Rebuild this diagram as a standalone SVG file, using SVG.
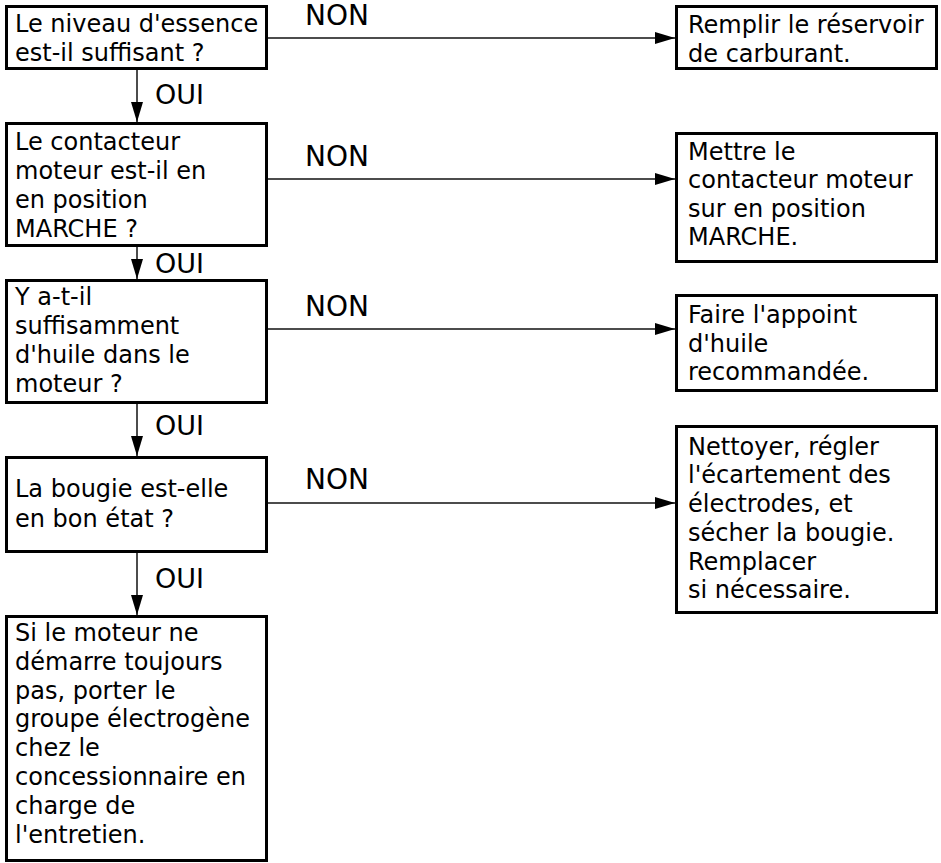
<svg xmlns="http://www.w3.org/2000/svg" width="941" height="863" viewBox="0 0 941 863">
<style>
.box{fill:#fff;stroke:#000;stroke-width:3}
.t{font-family:"DejaVu Sans","Liberation Sans",sans-serif;font-size:24px;fill:#000}
.lbl{font-family:"DejaVu Sans","Liberation Sans",sans-serif;font-size:27px;fill:#000}
.non{font-family:"DejaVu Sans","Liberation Sans",sans-serif;font-size:28px;fill:#000}
.c{stroke:#111;stroke-width:1.5;fill:none}
</style>
<defs>
<marker id="ah" markerUnits="userSpaceOnUse" viewBox="0 0 20 12" refX="20" refY="6" markerWidth="20" markerHeight="12" orient="auto">
<path d="M0,0 L20,6 L0,12 z" fill="#000"/>
</marker>
</defs>
<rect width="941" height="863" fill="#fff"/>
<g id="connectors">
<line class="c" x1="268" y1="38" x2="675" y2="38" marker-end="url(#ah)"/>
<line class="c" x1="268" y1="179" x2="675" y2="179" marker-end="url(#ah)"/>
<line class="c" x1="268" y1="329" x2="675" y2="329" marker-end="url(#ah)"/>
<line class="c" x1="268" y1="503" x2="675" y2="503" marker-end="url(#ah)"/>
<line class="c" x1="137" y1="70" x2="137" y2="122" marker-end="url(#ah)"/>
<line class="c" x1="137" y1="247" x2="137" y2="279" marker-end="url(#ah)"/>
<line class="c" x1="137" y1="404" x2="137" y2="456" marker-end="url(#ah)"/>
<line class="c" x1="137" y1="553" x2="137" y2="615" marker-end="url(#ah)"/>
<text class="non" x="305" y="25">NON</text>
<text class="non" x="305" y="166">NON</text>
<text class="non" x="305" y="316">NON</text>
<text class="non" x="305" y="489">NON</text>
<text class="lbl" x="155" y="104">OUI</text>
<text class="lbl" x="155" y="273">OUI</text>
<text class="lbl" x="155" y="435">OUI</text>
<text class="lbl" x="155" y="588">OUI</text>
</g>
<g id="q1">
<rect class="box" x="6.5" y="6.5" width="260" height="62"/>
<text class="t" x="15" y="32">Le niveau d'essence</text>
<text class="t" x="15" y="61">est-il suffisant ?</text>
</g>
<g id="a1">
<rect class="box" x="676.5" y="6.5" width="260" height="62"/>
<text class="t" x="688" y="33">Remplir le réservoir</text>
<text class="t" x="688" y="62">de carburant.</text>
</g>
<g id="q2">
<rect class="box" x="6.5" y="123.5" width="260" height="122"/>
<text class="t" x="15" y="150">Le contacteur</text>
<text class="t" x="15" y="179">moteur est-il en</text>
<text class="t" x="15" y="208">en position</text>
<text class="t" x="15" y="237">MARCHE ?</text>
</g>
<g id="a2">
<rect class="box" x="676.5" y="133.5" width="260" height="128"/>
<text class="t" x="688" y="160">Mettre le</text>
<text class="t" x="688" y="188">contacteur moteur</text>
<text class="t" x="688" y="217">sur en position</text>
<text class="t" x="688" y="245">MARCHE.</text>
</g>
<g id="q3">
<rect class="box" x="6.5" y="280.5" width="260" height="122"/>
<text class="t" x="15" y="305">Y a-t-il</text>
<text class="t" x="15" y="334">suffisamment</text>
<text class="t" x="15" y="363">d'huile dans le</text>
<text class="t" x="15" y="392">moteur ?</text>
</g>
<g id="a3">
<rect class="box" x="676.5" y="295.5" width="260" height="95"/>
<text class="t" x="688" y="323">Faire l'appoint</text>
<text class="t" x="688" y="352">d'huile</text>
<text class="t" x="688" y="380">recommandée.</text>
</g>
<g id="q4">
<rect class="box" x="6.5" y="457.5" width="260" height="94"/>
<text class="t" x="15" y="497">La bougie est-elle</text>
<text class="t" x="15" y="527">en bon état ?</text>
</g>
<g id="a4">
<rect class="box" x="676.5" y="426.5" width="260" height="186"/>
<text class="t" x="688" y="455">Nettoyer, régler</text>
<text class="t" x="688" y="483">l'écartement des</text>
<text class="t" x="688" y="512">électrodes, et</text>
<text class="t" x="688" y="541">sécher la bougie.</text>
<text class="t" x="688" y="570">Remplacer</text>
<text class="t" x="688" y="598">si nécessaire.</text>
</g>
<g id="end">
<rect class="box" x="6.5" y="616.5" width="260" height="244"/>
<text class="t" x="15" y="641">Si le moteur ne</text>
<text class="t" x="15" y="670">démarre toujours</text>
<text class="t" x="15" y="699">pas, porter le</text>
<text class="t" x="15" y="727">groupe électrogène</text>
<text class="t" x="15" y="756">chez le</text>
<text class="t" x="15" y="785">concessionnaire en</text>
<text class="t" x="15" y="814">charge de</text>
<text class="t" x="15" y="843">l'entretien.</text>
</g>
</svg>
